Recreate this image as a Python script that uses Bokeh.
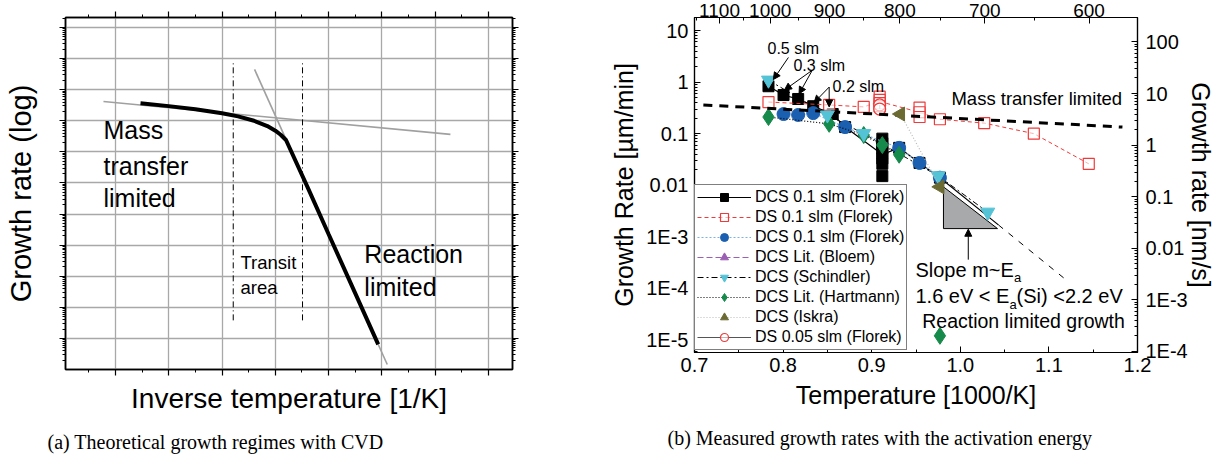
import numpy as np
from bokeh.plotting import figure
from bokeh.models import (Range1d, LinearAxis, LogAxis, LogScale, FixedTicker,
                          CustomJSTickFormatter, Label, Arrow, NormalHead, Legend,
                          LegendItem, Title)
from bokeh.layouts import row
from bokeh.embed import file_html
from bokeh.resources import INLINE

SANS = "Liberation Sans"
SERIF = "Liberation Serif"

# ---------------- Panel (a): schematic (arbitrary units, y in decades) -------------
mass_line_x = [0.775, 7.285]
mass_line_y = [8.62, 7.56]
react_line_x = [3.61, 6.10]
react_line_y = [9.65, 0.16]
curve_x = [1.47, 2.0, 2.5, 3.0, 3.3, 3.6, 3.85, 4.0, 4.1, 4.2, 4.6, 5.0, 5.5, 5.93]
curve_y = [8.56, 8.47, 8.37, 8.24, 8.14, 8.0, 7.83, 7.68, 7.55, 7.38, 5.88, 4.35, 2.45, 0.81]
transit_x = [3.21, 4.51]
transit_y = [1.58, 9.9]

# ---------------- Panel (b): measured growth rates -------------------------------
top_temps_C = [1100, 1000, 900, 800, 700, 600]
top_minor_C = [1150, 1050, 950, 850, 750, 650]

dcs_florek_x = [0.7835, 0.8005, 0.817, 0.834, 0.856, 0.870, 0.912, 0.912, 0.912, 0.912,
                0.912, 0.912, 0.912, 0.931, 0.954, 0.977]
dcs_florek_y = [0.83, 0.56, 0.47, 0.34, 0.24, 0.134, 0.08, 0.065, 0.052, 0.042,
                0.033, 0.026, 0.015, 0.053, 0.027, 0.014]
ds01_x = [0.7835, 0.852, 0.891, 0.909, 0.909, 0.909, 0.909, 0.954, 0.954, 0.954,
          0.977, 1.027, 1.083, 1.145]
ds01_y = [0.41, 0.36, 0.33, 0.52, 0.45, 0.39, 0.34, 0.32, 0.26, 0.21,
          0.19, 0.16, 0.10, 0.026]
dcs2_x = [0.8005, 0.817, 0.834, 0.870, 0.931, 0.954, 0.977]
dcs2_y = [0.24, 0.23, 0.25, 0.134, 0.053, 0.027, 0.014]
bloem_x = [float("nan")]   # no visible points in the chart (legend entry only)
bloem_y = [float("nan")]
schindler_x = [0.7835, 0.85, 0.891, 0.975, 1.031]
schindler_y = [1.09, 0.23, 0.10, 0.0152, 0.0030]
hartmann_x = [0.7835, 0.852, 0.891, 0.912, 0.931, 0.977]
hartmann_y = [0.21, 0.155, 0.094, 0.06, 0.039, 1.2e-5]
iskra_x = [0.9325, 0.977]
iskra_y = [0.24, 0.0093]
ds005_x = [0.909, 0.909]
ds005_y = [0.36, 0.30]

mass_fit_x = [0.71, 1.183]
mass_fit_y = [0.36, 0.134]
ea_fit_x = [0.977, 1.043, 1.119]
ea_fit_y = [0.014, 0.0017, 1.48e-4]
slope_tri_x = [0.981, 0.981, 1.042]
slope_tri_y = [0.0093, 0.00144, 0.00144]

CONV = 1000.0 / 60.0  # um/min -> nm/s


def grouped_path(xs, ys):
    groups = {}
    for x, y in zip(xs, ys):
        groups.setdefault(x, []).append(np.log10(y))
    gx = sorted(groups)
    gy = [10 ** np.mean(groups[k]) for k in gx]
    return gx, gy


# ============================== Panel (a) ======================================
pa = figure(frame_width=447, frame_height=352, x_range=Range1d(0.0625, 8.45),
            y_range=Range1d(0, 11.32), output_backend="svg", toolbar_location=None,
            min_border_left=65, min_border_right=88, min_border_top=15,
            min_border_bottom=97)
pa.title.visible = False
pa.outline_line_color = "black"
pa.outline_line_width = 1.5
pa.background_fill_color = "white"
pa.border_fill_color = "white"

xt = FixedTicker(ticks=list(range(1, 9)), minor_ticks=[k + 0.5 for k in range(0, 9)])
yt = FixedTicker(ticks=list(range(1, 12)),
                 minor_ticks=[k + np.log10(m) for k in range(0, 12) for m in range(2, 10)
                              if k + np.log10(m) <= 11.32])
empty_fmt = CustomJSTickFormatter(code="return '';")

pa_bottom = pa.below[0]
pa_left = pa.left[0]
pa_top = LinearAxis(axis_label=None)
pa_right = LinearAxis(axis_label=None)
pa.add_layout(pa_top, "above")
pa.add_layout(pa_right, "right")
for ax in (pa_bottom, pa_top):
    ax.ticker = xt
for ax in (pa_left, pa_right):
    ax.ticker = yt
for ax in (pa_bottom, pa_top, pa_left, pa_right):
    ax.formatter = empty_fmt
    ax.major_label_text_font_size = "1px"
    ax.major_label_standoff = 0
    ax.axis_line_width = 1.5
    ax.major_tick_out = 6
    ax.major_tick_in = 0
    ax.minor_tick_out = 3
    ax.minor_tick_in = 0
    ax.major_tick_line_width = 1.2
    ax.axis_label_text_font = SANS
    ax.axis_label_text_font_style = "normal"
    ax.axis_label_text_color = "black"
for ax in (pa_top, pa_right):
    ax.axis_label_standoff = 0
    ax.axis_label_text_font_size = "1px"
pa.xgrid.ticker = xt
pa.ygrid.ticker = yt
pa.grid.grid_line_color = "#a8a8a8"
pa.grid.grid_line_width = 1.3

pa_bottom.axis_label = "Inverse temperature [1/K]"
pa_bottom.axis_label_text_font_size = "28px"
pa_bottom.axis_label_standoff = 7
pa_left.axis_label = "Growth rate (log)"
pa_left.axis_label_text_font_size = "29px"
pa_left.axis_label_standoff = 23

pa.line(mass_line_x, mass_line_y, line_color="#a0a0a0", line_width=1.6)
pa.line(react_line_x, react_line_y, line_color="#a0a0a0", line_width=1.6)
pa.line(curve_x, curve_y, line_color="black", line_width=4)
for tx in transit_x:
    pa.line([tx, tx], transit_y, line_color="black", line_width=1, line_dash="6 3 1 3")

for txt, yy in [("Mass", 7.69), ("transfer", 6.56), ("limited", 5.53)]:
    pa.add_layout(Label(x=0.775, y=yy, text=txt, text_font=SANS, text_font_size="25px",
                        text_baseline="middle", text_align="left", text_color="black"))
for txt, yy in [("Reaction", 3.70), ("limited", 2.64)]:
    pa.add_layout(Label(x=5.67, y=yy, text=txt, text_font=SANS, text_font_size="25px",
                        text_baseline="middle", text_align="left", text_color="black"))
for txt, yy in [("Transit", 3.44), ("area", 2.64)]:
    pa.add_layout(Label(x=3.345, y=yy, text=txt, text_font=SANS, text_font_size="18.5px",
                        text_baseline="middle", text_align="left", text_color="black"))

pa.add_layout(Title(text="(a) Theoretical growth regimes with CVD", align="left", offset=-18,
                    text_font=SERIF, text_font_size="20px", text_font_style="normal",
                    text_color="black", standoff=25), "below")

# ============================== Panel (b) ======================================
# frame top shared with panel (a) (row aligns frame tops); extend the log range so
# that the 10 um/min level keeps its position
Y_LO = 5.7e-6
FRAME_H_B = 335
Y_HI = 10 ** (np.log10(Y_LO) + FRAME_H_B * (1.0 - np.log10(Y_LO)) / 322.0)

pb = figure(frame_width=443, frame_height=FRAME_H_B, x_range=Range1d(0.7, 1.2),
            y_range=Range1d(Y_LO, Y_HI), y_axis_type="log", output_backend="svg",
            toolbar_location=None, min_border_left=94, min_border_right=84,
            min_border_top=15, min_border_bottom=114)
pb.title.visible = False
pb.outline_line_color = "black"
pb.outline_line_width = 1.2
pb.grid.visible = False
pb.border_fill_color = "white"
pb.extra_y_ranges = {"nms": Range1d(Y_LO * CONV, Y_HI * CONV)}
pb.extra_y_scales = {"nms": LogScale()}

log_fmt = CustomJSTickFormatter(code="""
const e = Math.round(Math.log10(tick));
if (e >= 0) { return String(Math.round(Math.pow(10, e))); }
if (e >= -2) { return Math.pow(10, e).toFixed(-e); }
return '1E' + e;
""")

left_ticker = FixedTicker(ticks=[10.0 ** k for k in range(-5, 2)],
                          minor_ticks=[m * 10.0 ** k for k in range(-6, 1) for m in range(2, 10)])
right_ticker = FixedTicker(ticks=[10.0 ** k for k in range(-4, 3)],
                           minor_ticks=[m * 10.0 ** k for k in range(-5, 2) for m in range(2, 10)])
bottom_ticker = FixedTicker(ticks=[0.7, 0.8, 0.9, 1.0, 1.1, 1.2],
                            minor_ticks=[0.75, 0.85, 0.95, 1.05, 1.15])
top_ticker = FixedTicker(ticks=[1000.0 / (t + 273.15) for t in top_temps_C],
                         minor_ticks=[1000.0 / (t + 273.15) for t in top_minor_C])

pb_bottom = pb.below[0]
pb_left = pb.left[0]
pb_right = LogAxis(y_range_name="nms")
pb_top = LinearAxis(axis_label=None)
pb.add_layout(pb_right, "right")
pb.add_layout(pb_top, "above")

pb_right.ticker = right_ticker
pb_right.formatter = log_fmt
pb_right.axis_label = "Growth rate [nm/s]"
pb_top.ticker = top_ticker
pb_top.formatter = CustomJSTickFormatter(code="return String(Math.round(1000/tick - 273.15));")
pb_bottom.ticker = bottom_ticker
pb_bottom.formatter = CustomJSTickFormatter(code="return tick.toFixed(1);")
pb_bottom.axis_label = "Temperature [1000/K]"
pb_left.ticker = left_ticker
pb_left.formatter = log_fmt
pb_left.axis_label = "Growth Rate [µm/min]"

for ax in (pb_bottom, pb_top, pb_left, pb_right):
    ax.axis_line_width = 1.2
    ax.major_tick_in = 6
    ax.major_tick_out = 0
    ax.minor_tick_in = 3
    ax.minor_tick_out = 0
    ax.major_label_text_font = SANS
    ax.major_label_text_font_size = "20px"
    ax.major_label_text_color = "black"
    ax.axis_label_text_font = SANS
    ax.axis_label_text_font_size = "25px"
    ax.axis_label_text_font_style = "normal"
    ax.axis_label_text_color = "black"
pb_top.major_label_text_font_size = "19px"
pb_bottom.major_label_standoff = 5
pb_bottom.axis_label_standoff = 6
pb_top.major_label_standoff = 1
pb_left.major_label_standoff = 6
pb_left.axis_label_standoff = 5
pb_right.major_label_standoff = 8
pb_right.axis_label_standoff = -4

RED = "#ee3a3a"
BLUE = "#1b5fb0"
CYAN = "#55c3d6"
GREEN = "#168a4a"
OLIVE = "#6b6a33"
PURPLE = "#9b5fb4"

pb.patch(slope_tri_x, slope_tri_y, fill_color="#a7a9ab", line_color="black", line_width=1)

fx, fy = grouped_path(dcs_florek_x, dcs_florek_y)
r_fl_line = pb.line(fx, fy, line_color="black", line_width=1.2)
r_fl_pts = pb.scatter(dcs_florek_x, dcs_florek_y, marker="square", size=11,
                      fill_color="black", line_color="black")
pb.line(ea_fit_x[:2], ea_fit_y[:2], line_color="black", line_width=1.2)
pb.line(ea_fit_x[1:], ea_fit_y[1:], line_color="black", line_width=1, line_dash="6 7")

r_sc_line = pb.line(schindler_x, schindler_y, line_color="black", line_width=1,
                    line_dash="6 3 2 3")

r_b_line = pb.line(dcs2_x, dcs2_y, line_color="#7fb0e6", line_width=1.2, line_dash="2 2")
r_b_pts = pb.scatter(dcs2_x, dcs2_y, marker="circle", size=13, fill_color=BLUE,
                     line_color=BLUE)

r_h_line = pb.line(hartmann_x[:5], hartmann_y[:5], line_color="black", line_width=1.2,
                   line_dash="1 2")
r_h_pts = pb.scatter(hartmann_x, hartmann_y, marker="diamond", size=17, fill_color=GREEN,
                     line_color=GREEN)

rx, ry = grouped_path(ds01_x, ds01_y)
r_r_line = pb.line(rx, ry, line_color=RED, line_width=1, line_dash="4 3")
r_r_pts = pb.scatter(ds01_x, ds01_y, marker="square", size=11, fill_color="white",
                     fill_alpha=0.6, line_color=RED, line_width=1.2)

r_c_line = pb.line(ds005_x, ds005_y, line_color="#555555", line_width=1.2)
r_c_pts = pb.scatter(ds005_x, ds005_y, marker="circle", size=12, fill_color="white",
                     fill_alpha=0.6, line_color=RED, line_width=1.2)

pb.line(mass_fit_x, mass_fit_y, line_color="black", line_width=3, line_dash="9 7")

r_bl_line = pb.line(bloem_x, bloem_y, line_color=PURPLE, line_width=1.2, line_dash="6 3")
r_bl_pts = pb.scatter(bloem_x, bloem_y, marker="triangle", size=13, fill_color=PURPLE,
                      line_color=PURPLE)

r_sc_pts = pb.scatter(schindler_x, schindler_y, marker="inverted_triangle", size=14,
                      fill_color=CYAN, line_color=CYAN)

r_i_line = pb.line(iskra_x, iskra_y, line_color="#bbbbbb", line_width=1.2, line_dash="1 2")
r_i_pts = pb.scatter(iskra_x, iskra_y, marker="triangle", angle=np.pi / 2, size=14,
                     fill_color=OLIVE, line_color=OLIVE)


def add_text(x, y, text, size, align="left", baseline="middle"):
    pb.add_layout(Label(x=x, y=y, text=text, text_font=SANS, text_font_size=size,
                        text_align=align, text_baseline=baseline, text_color="black"))


def add_arrow(x0, y0, x1, y1):
    pb.add_layout(Arrow(end=NormalHead(size=7, fill_color="black", line_color="black",
                                       line_width=1),
                        x_start=x0, y_start=y0, x_end=x1, y_end=y1, line_width=1,
                        line_color="black"))


add_text(0.7824, 4.54, "0.5 slm", "16px")
add_text(0.8117, 2.13, "0.3 slm", "16px")
add_text(0.8558, 0.837, "0.2 slm", "16px")
add_arrow(0.806, 3.0, 0.789, 1.12)
add_arrow(0.833, 1.7, 0.8015, 0.70)
add_arrow(0.833, 1.7, 0.818, 0.59)
add_arrow(0.852, 0.80, 0.835, 0.40)
add_arrow(0.852, 0.80, 0.852, 0.33)
add_text(0.990, 0.49, "Mass transfer limited", "18.5px")
add_arrow(1.009, 3.6e-4, 1.009, 1.4e-3)
add_text(0.9494, 2.31e-4, "Slope m~E", "20px")
add_text(1.0605, 1.6e-4, "a", "13px")
add_text(0.9494, 7.0e-5, "1.6 eV < E", "20px")
add_text(1.0555, 4.9e-5, "a", "13px")
add_text(1.0635, 7.0e-5, "(Si) <2.2 eV", "20px")
add_text(0.957, 2.28e-5, "Reaction limited growth", "19.5px")

items = [
    LegendItem(label="DCS 0.1 slm (Florek)", renderers=[r_fl_line, r_fl_pts]),
    LegendItem(label="DS 0.1 slm (Florek)", renderers=[r_r_line, r_r_pts]),
    LegendItem(label="DCS 0.1 slm (Florek)", renderers=[r_b_line, r_b_pts]),
    LegendItem(label="DCS Lit. (Bloem)", renderers=[r_bl_line, r_bl_pts]),
    LegendItem(label="DCS (Schindler)", renderers=[r_sc_line, r_sc_pts]),
    LegendItem(label="DCS Lit. (Hartmann)", renderers=[r_h_line, r_h_pts]),
    LegendItem(label="DCS (Iskra)", renderers=[r_i_line, r_i_pts]),
    LegendItem(label="DS 0.05 slm (Florek)", renderers=[r_c_line, r_c_pts]),
]
legend = Legend(items=items, location=(0, 2), label_text_font=SANS,
                label_text_font_size="16px", label_text_color="black",
                glyph_width=54, glyph_height=20, label_height=18, spacing=0,
                padding=2, margin=0, label_standoff=4, border_line_color="black",
                border_line_width=1, background_fill_color="white",
                background_fill_alpha=1.0)
pb.add_layout(legend, "center")

pb.add_layout(Title(text="(b) Measured growth rates with the activation energy", align="left",
                    offset=-27, text_font=SERIF, text_font_size="20px",
                    text_font_style="normal", text_color="black", standoff=27), "below")

layout = row(pa, pb)
open("out.html", "w").write(file_html(layout, INLINE))
